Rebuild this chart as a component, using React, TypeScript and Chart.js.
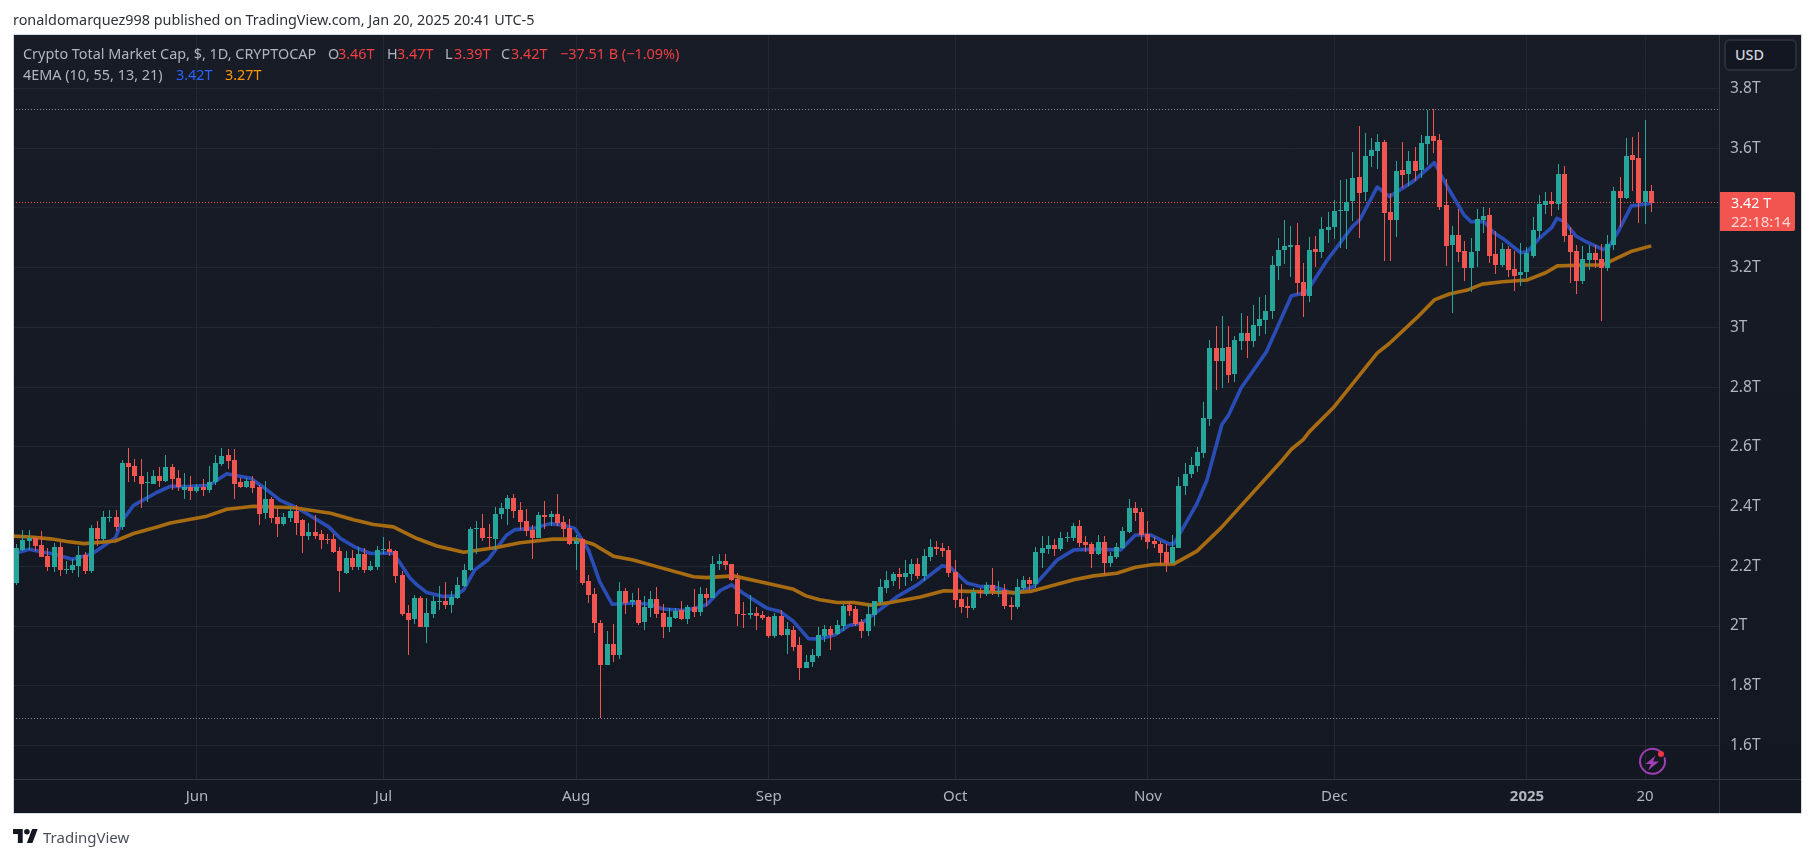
import React, { useEffect, useRef } from "react";
import { Chart, registerables } from "chart.js";

Chart.register(...registerables);

const opens = [
  2.144, 2.256, 2.284, 2.296, 2.271, 2.234, 2.197, 2.264, 2.188, 2.187,
  2.201, 2.237, 2.184, 2.327, 2.291, 2.362, 2.364, 2.331, 2.547, 2.537,
  2.504, 2.478, 2.477, 2.504, 2.487, 2.531, 2.497, 2.457, 2.467, 2.451,
  2.464, 2.454, 2.481, 2.544, 2.574, 2.557, 2.481, 2.467, 2.487, 2.464,
  2.377, 2.427, 2.364, 2.341, 2.361, 2.384, 2.354, 2.301, 2.314, 2.307,
  2.291, 2.291, 2.251, 2.177, 2.227, 2.197, 2.241, 2.187, 2.197, 2.255,
  2.257, 2.251, 2.171, 2.044, 2.024, 2.094, 1.998, 2.041, 2.082, 2.084,
  2.071, 2.094, 2.134, 2.188, 2.324, 2.328, 2.298, 2.291, 2.374, 2.391,
  2.428, 2.388, 2.351, 2.321, 2.294, 2.371, 2.364, 2.374, 2.348, 2.328,
  2.274, 2.291, 2.151, 2.108, 2.011, 1.871, 1.941, 1.904, 2.118, 2.081,
  2.088, 2.014, 2.061, 2.091, 2.044, 1.998, 2.028, 2.054, 2.024, 2.064,
  2.048, 2.108, 2.094, 2.208, 2.218, 2.208, 2.158, 2.041, 2.038, 2.044,
  2.038, 2.031, 1.968, 2.034, 1.971, 1.988, 1.938, 1.861, 1.878, 1.901,
  1.968, 1.991, 1.975, 2.001, 2.071, 2.058, 2.015, 1.985, 2.038, 2.081,
  2.128, 2.151, 2.175, 2.165, 2.175, 2.208, 2.168, 2.231, 2.265, 2.261,
  2.255, 2.181, 2.091, 2.068, 2.061, 2.115, 2.108, 2.138, 2.116, 2.121,
  2.071, 2.065, 2.128, 2.155, 2.141, 2.245, 2.258, 2.271, 2.258, 2.296,
  2.295, 2.335, 2.281, 2.275, 2.241, 2.281, 2.211, 2.231, 2.261, 2.315,
  2.395, 2.381, 2.308, 2.285, 2.275, 2.248, 2.211, 2.261, 2.469, 2.509,
  2.536, 2.58, 2.694, 2.932, 2.888, 2.935, 2.845, 2.955, 2.982, 2.955,
  3.005, 3.025, 3.055, 3.206, 3.26, 3.27, 3.277, 3.153, 3.106, 3.263,
  3.253, 3.327, 3.337, 3.39, 3.39, 3.424, 3.504, 3.454, 3.574, 3.591,
  3.621, 3.387, 3.36, 3.527, 3.514, 3.558, 3.527, 3.614, 3.641, 3.628,
  3.41, 3.276, 3.309, 3.256, 3.199, 3.256, 3.36, 3.376, 3.246, 3.209,
  3.263, 3.196, 3.175, 3.185, 3.239, 3.323, 3.41, 3.423, 3.413, 3.514,
  3.309, 3.256, 3.155, 3.226, 3.249, 3.229, 3.199, 3.276, 3.457, 3.433,
  3.578, 3.568, 3.42, 3.457,
];
const closes = [
  2.261, 2.287, 2.296, 2.267, 2.231, 2.197, 2.264, 2.187, 2.191, 2.204,
  2.237, 2.184, 2.327, 2.291, 2.364, 2.364, 2.331, 2.547, 2.534, 2.501,
  2.474, 2.481, 2.504, 2.487, 2.531, 2.494, 2.464, 2.467, 2.451, 2.464,
  2.454, 2.484, 2.547, 2.571, 2.551, 2.477, 2.467, 2.487, 2.461, 2.374,
  2.427, 2.361, 2.341, 2.364, 2.384, 2.344, 2.301, 2.314, 2.301, 2.287,
  2.288, 2.247, 2.184, 2.227, 2.197, 2.241, 2.187, 2.201, 2.254, 2.257,
  2.247, 2.167, 2.041, 2.021, 2.094, 1.998, 2.044, 2.084, 2.084, 2.071,
  2.098, 2.138, 2.188, 2.324, 2.328, 2.294, 2.294, 2.374, 2.394, 2.428,
  2.384, 2.348, 2.318, 2.294, 2.371, 2.364, 2.374, 2.344, 2.324, 2.274,
  2.284, 2.144, 2.104, 2.011, 1.868, 1.941, 1.904, 2.118, 2.078, 2.088,
  2.011, 2.064, 2.091, 2.041, 1.998, 2.031, 2.051, 2.024, 2.064, 2.048,
  2.108, 2.094, 2.208, 2.218, 2.204, 2.154, 2.041, 2.038, 2.044, 2.034,
  2.028, 1.968, 2.034, 1.971, 1.991, 1.931, 1.861, 1.881, 1.904, 1.971,
  1.991, 1.971, 2.005, 2.068, 2.051, 2.008, 1.985, 2.041, 2.085, 2.131,
  2.155, 2.175, 2.165, 2.178, 2.208, 2.168, 2.235, 2.265, 2.258, 2.251,
  2.178, 2.088, 2.065, 2.061, 2.115, 2.111, 2.138, 2.118, 2.118, 2.068,
  2.065, 2.131, 2.155, 2.141, 2.248, 2.261, 2.271, 2.258, 2.295, 2.298,
  2.335, 2.278, 2.271, 2.241, 2.281, 2.211, 2.235, 2.265, 2.318, 2.395,
  2.378, 2.305, 2.281, 2.275, 2.245, 2.211, 2.265, 2.468, 2.509, 2.54,
  2.583, 2.697, 2.932, 2.888, 2.932, 2.841, 2.958, 2.982, 2.955, 3.009,
  3.029, 3.055, 3.21, 3.26, 3.273, 3.277, 3.149, 3.106, 3.26, 3.253,
  3.33, 3.337, 3.39, 3.394, 3.42, 3.501, 3.451, 3.574, 3.595, 3.621,
  3.384, 3.36, 3.524, 3.511, 3.558, 3.524, 3.618, 3.641, 3.625, 3.403,
  3.273, 3.309, 3.252, 3.199, 3.252, 3.363, 3.373, 3.239, 3.209, 3.263,
  3.192, 3.172, 3.185, 3.249, 3.326, 3.413, 3.423, 3.413, 3.514, 3.306,
  3.252, 3.155, 3.229, 3.249, 3.226, 3.199, 3.279, 3.457, 3.433, 3.574,
  3.561, 3.417, 3.457, 3.417,
];
const highs = [
  2.276, 2.321, 2.321, 2.298, 2.317, 2.261, 2.277, 2.281, 2.217, 2.223,
  2.267, 2.247, 2.337, 2.351, 2.384, 2.387, 2.387, 2.557, 2.597, 2.561,
  2.561, 2.517, 2.521, 2.531, 2.574, 2.544, 2.524, 2.514, 2.504, 2.477,
  2.491, 2.537, 2.574, 2.597, 2.594, 2.594, 2.497, 2.497, 2.504, 2.471,
  2.487, 2.431, 2.394, 2.377, 2.397, 2.404, 2.357, 2.344, 2.371, 2.321,
  2.307, 2.307, 2.264, 2.251, 2.254, 2.264, 2.261, 2.217, 2.267, 2.297,
  2.284, 2.254, 2.184, 2.071, 2.104, 2.101, 2.094, 2.101, 2.134, 2.148,
  2.118, 2.164, 2.208, 2.331, 2.351, 2.374, 2.341, 2.398, 2.411, 2.438,
  2.441, 2.414, 2.391, 2.338, 2.381, 2.418, 2.384, 2.441, 2.368, 2.358,
  2.304, 2.294, 2.171, 2.128, 2.021, 1.984, 2.008, 2.148, 2.128, 2.111,
  2.128, 2.101, 2.118, 2.131, 2.074, 2.061, 2.061, 2.084, 2.071, 2.124,
  2.131, 2.128, 2.234, 2.241, 2.241, 2.208, 2.178, 2.081, 2.104, 2.064,
  2.051, 2.034, 2.044, 2.054, 2.014, 2.001, 1.964, 1.904, 1.924, 1.998,
  2.005, 2.001, 2.021, 2.075, 2.081, 2.068, 2.025, 2.075, 2.085, 2.158,
  2.185, 2.181, 2.195, 2.221, 2.225, 2.228, 2.258, 2.291, 2.285, 2.278,
  2.268, 2.221, 2.141, 2.098, 2.128, 2.128, 2.148, 2.195, 2.151, 2.141,
  2.098, 2.158, 2.168, 2.165, 2.265, 2.301, 2.301, 2.291, 2.315, 2.315,
  2.345, 2.355, 2.301, 2.281, 2.305, 2.301, 2.248, 2.278, 2.331, 2.425,
  2.415, 2.395, 2.351, 2.298, 2.285, 2.275, 2.305, 2.498, 2.545, 2.565,
  2.599, 2.751, 2.958, 3.005, 3.039, 3.005, 2.972, 3.049, 3.039, 3.076,
  3.102, 3.109, 3.24, 3.3, 3.36, 3.34, 3.35, 3.216, 3.303, 3.307,
  3.37, 3.387, 3.427, 3.494, 3.497, 3.588, 3.675, 3.652, 3.635, 3.648,
  3.628, 3.451, 3.558, 3.621, 3.591, 3.604, 3.645, 3.728, 3.731, 3.648,
  3.497, 3.34, 3.397, 3.289, 3.299, 3.397, 3.403, 3.4, 3.323, 3.283,
  3.273, 3.256, 3.283, 3.269, 3.37, 3.444, 3.454, 3.454, 3.547, 3.541,
  3.336, 3.276, 3.273, 3.276, 3.276, 3.279, 3.309, 3.47, 3.504, 3.635,
  3.638, 3.655, 3.695, 3.477,
];
const lows = [
  2.137, 2.252, 2.254, 2.252, 2.231, 2.184, 2.181, 2.167, 2.174, 2.177,
  2.164, 2.174, 2.177, 2.267, 2.284, 2.347, 2.317, 2.321, 2.484, 2.481,
  2.394, 2.414, 2.474, 2.467, 2.481, 2.454, 2.451, 2.427, 2.421, 2.444,
  2.437, 2.447, 2.471, 2.537, 2.527, 2.424, 2.461, 2.461, 2.447, 2.337,
  2.357, 2.344, 2.297, 2.334, 2.347, 2.304, 2.244, 2.287, 2.291, 2.257,
  2.274, 2.244, 2.114, 2.174, 2.187, 2.187, 2.177, 2.184, 2.187, 2.241,
  2.234, 2.144, 2.034, 1.904, 2.008, 1.998, 1.944, 2.028, 2.054, 2.058,
  2.044, 2.091, 2.131, 2.184, 2.241, 2.284, 2.261, 2.254, 2.358, 2.338,
  2.361, 2.321, 2.301, 2.224, 2.294, 2.324, 2.334, 2.334, 2.298, 2.271,
  2.188, 2.138, 2.078, 1.978, 1.693, 1.871, 1.881, 1.891, 2.041, 2.064,
  2.004, 1.988, 2.031, 2.028, 1.961, 1.981, 2.024, 2.021, 2.008, 2.031,
  2.034, 2.068, 2.094, 2.188, 2.188, 2.151, 2.001, 1.994, 2.024, 1.988,
  2.021, 1.961, 1.961, 1.968, 1.908, 1.918, 1.818, 1.858, 1.864, 1.894,
  1.948, 1.921, 1.971, 1.985, 2.035, 2.001, 1.961, 1.968, 2.001, 2.071,
  2.111, 2.135, 2.125, 2.135, 2.151, 2.158, 2.151, 2.218, 2.238, 2.231,
  2.165, 2.061, 2.045, 2.028, 2.055, 2.095, 2.101, 2.105, 2.098, 2.058,
  2.021, 2.058, 2.121, 2.121, 2.128, 2.195, 2.241, 2.235, 2.251, 2.281,
  2.285, 2.265, 2.248, 2.195, 2.238, 2.171, 2.198, 2.225, 2.258, 2.311,
  2.351, 2.288, 2.258, 2.261, 2.205, 2.181, 2.208, 2.261, 2.439, 2.496,
  2.516, 2.563, 2.67, 2.791, 2.798, 2.814, 2.818, 2.925, 2.898, 2.935,
  2.972, 2.979, 3.029, 3.159, 3.213, 3.169, 3.112, 3.035, 3.086, 3.203,
  3.233, 3.283, 3.297, 3.266, 3.263, 3.357, 3.3, 3.424, 3.538, 3.531,
  3.223, 3.223, 3.303, 3.467, 3.474, 3.49, 3.5, 3.544, 3.584, 3.393,
  3.206, 3.048, 3.219, 3.155, 3.118, 3.202, 3.316, 3.216, 3.179, 3.202,
  3.169, 3.122, 3.138, 3.162, 3.232, 3.299, 3.38, 3.373, 3.393, 3.286,
  3.149, 3.112, 3.145, 3.192, 3.199, 3.021, 3.189, 3.259, 3.336, 3.43,
  3.457, 3.35, 3.346, 3.387,
];

const fastEmaDays = [
  -0.6, 2, 4.3, 6, 8.9, 12.1, 15.9, 17, 18.8, 22.6, 24.7, 27.4, 30.9, 33.8, 37.6, 39.7, 42.4, 44.6, 46.7, 50.2,
  52.1, 54.2, 56.9, 60.6, 63.3, 64.4, 66, 68.6, 70.5, 71.9, 73.7, 75.9, 78.8, 80.2, 83.1, 85.8, 88, 89.8, 92, 93.8,
  95.8, 99.2, 101.9, 104, 107.8, 111, 113.2, 115, 116.9, 120.7, 122.8, 125, 127.4, 129.1, 131.7, 133.9, 136, 138.2, 141.7, 144.9,
  148.9, 150.2, 152.9, 155.1, 157.2, 160.4, 163.6, 167.4, 170.1, 173.3, 177.6, 180, 182.4, 185.4, 186.2, 189.9, 191.5, 193.9, 195, 197,
  201.1, 205.1, 207.5, 210.7, 212.3, 215, 216.1, 218.9, 220.9, 224.7, 228.1, 230.2, 232.9, 234, 236.1, 237.7, 239.1, 242, 243.1, 245,
  247, 247.8, 249, 250.9, 252.5, 255.2, 256.2, 257.8, 259.8, 261, 263,
];
const fastEmaValues = [
  2.241, 2.257, 2.247, 2.241, 2.224, 2.241, 2.296, 2.354, 2.404, 2.448, 2.468, 2.467, 2.471, 2.51, 2.495, 2.465, 2.421, 2.401, 2.376, 2.332,
  2.293, 2.267, 2.243, 2.245, 2.16, 2.138, 2.112, 2.099, 2.101, 2.121, 2.188, 2.223, 2.304, 2.323, 2.327, 2.343, 2.338, 2.327, 2.254, 2.149,
  2.073, 2.077, 2.073, 2.057, 2.052, 2.071, 2.119, 2.138, 2.11, 2.06, 2.049, 2.015, 1.958, 1.957, 1.971, 2.002, 2.01, 2.044, 2.099, 2.138,
  2.202, 2.197, 2.144, 2.132, 2.132, 2.11, 2.132, 2.221, 2.255, 2.257, 2.255, 2.305, 2.305, 2.275, 2.275, 2.41, 2.488, 2.674, 2.707, 2.797,
  2.919, 3.106, 3.117, 3.221, 3.265, 3.34, 3.36, 3.47, 3.438, 3.489, 3.552, 3.471, 3.376, 3.354, 3.354, 3.317, 3.298, 3.25, 3.254, 3.298,
  3.335, 3.365, 3.354, 3.306, 3.287, 3.261, 3.27, 3.326, 3.407, 3.41, 3.416,
];
const slowEmaDays = [
  -0.6, 2.2, 5.4, 8.1, 10.8, 15.9, 18.8, 22.6, 24.7, 30.6, 33.8, 38.1, 44.6, 50.5, 54.2, 57.4, 60.6, 64.4, 67.6, 71.9,
  77.2, 81, 86.3, 90.1, 92.8, 96, 99.2, 103, 108.9, 111, 115.3, 120.7, 125, 127, 129.2, 132, 134.7, 137.4, 140.6, 145.4,
  149.2, 152.9, 160.4, 163.1, 170.1, 173.3, 177, 180, 182.9, 186.2, 189.9, 193.7, 203.7, 205.1, 207, 208, 211.8, 216.1, 218.9, 220.9,
  225.2, 228.1, 230.5, 233.4, 235.8, 239.1, 243.1, 246, 247.9, 252.5, 255.2, 259.7, 263,
];
const slowEmaValues = [
  2.301, 2.298, 2.292, 2.283, 2.276, 2.285, 2.31, 2.332, 2.345, 2.368, 2.391, 2.401, 2.396, 2.378, 2.356, 2.34, 2.332, 2.293, 2.268, 2.247,
  2.263, 2.279, 2.291, 2.291, 2.274, 2.234, 2.221, 2.199, 2.165, 2.162, 2.168, 2.143, 2.123, 2.101, 2.088, 2.079, 2.079, 2.07, 2.079, 2.097,
  2.118, 2.116, 2.112, 2.116, 2.155, 2.168, 2.177, 2.197, 2.206, 2.208, 2.251, 2.327, 2.557, 2.592, 2.624, 2.651, 2.73, 2.841, 2.914, 2.947,
  3.031, 3.092, 3.112, 3.125, 3.145, 3.153, 3.159, 3.183, 3.206, 3.209, 3.209, 3.254, 3.273,
];

const priceTicks = [1.6, 1.8, 2, 2.2, 2.4, 2.6, 2.8, 3, 3.2, 3.4, 3.6, 3.8];
const priceTickLabels = ["1.6T", "1.8T", "2T", "2.2T", "2.4T", "2.6T", "2.8T", "3T", "3.2T", "", "3.6T", "3.8T"];
const dayTicks = [29, 59, 90, 121, 151, 182, 212, 243, 262];
const dayTickLabels = ["Jun", "Jul", "Aug", "Sep", "Oct", "Nov", "Dec", "2025", "20"];

const highLevel = 3.72968;
const lowLevel = 1.69041;
const lastPrice = 3.41826;

const FONT = '"Noto Sans", sans-serif';
const UP = "#26a69a";
const DOWN = "#f25450";
const X_MIN = -0.6;
const X_MAX = 273.9;
const Y_MIN = 1.48782;
const Y_MAX = 3.9825;

const candlePixels = {
  id: "candlePixels",
  beforeDatasetsDraw(chart: any) {
    chart.getSortedVisibleDatasetMetas().forEach((meta: any) => {
      if (meta.type !== "bar") return;
      meta.data.forEach((el: any) => {
        el.x = Math.floor(el.x) + 0.5;
        const y = Math.round(el.y);
        let base = Math.round(el.base);
        if (y === base) base = y + 1;
        el.y = y;
        el.base = base;
      });
    });
  },
};

const frame = {
  id: "frame",
  beforeDraw(chart: any) {
    const c = chart.ctx;
    c.save();
    c.fillStyle = "#ffffff";
    c.fillRect(0, 0, 1814, 858);
    const g = c.createLinearGradient(0, 34, 0, 813);
    g.addColorStop(0, "#181c27");
    g.addColorStop(1, "#131722");
    c.fillStyle = g;
    c.fillRect(13, 34, 1789, 780);
    c.restore();
  },
  afterDraw(chart: any) {
    const c = chart.ctx;
    c.save();
    c.strokeStyle = "#343843";
    c.lineWidth = 1;
    c.beginPath();
    c.moveTo(1719.5, 34);
    c.lineTo(1719.5, 813);
    c.moveTo(13, 779.5);
    c.lineTo(1801, 779.5);
    c.stroke();
    c.strokeStyle = "#d6d8df";
    c.strokeRect(13.5, 34.5, 1788, 779);
    c.restore();
  },
};

function Label(props: any) {
  const { x, y, color, size, weight, children } = props;
  return (
    <span
      style={{
        position: "absolute",
        left: x,
        top: y,
        transform: "translateY(-50%)",
        color,
        fontFamily: FONT,
        fontSize: size || 14.4,
        fontWeight: weight || 400,
        whiteSpace: "nowrap",
        lineHeight: 1,
      }}
    >
      {children}
    </span>
  );
}

export default function App() {
  const ref = useRef<HTMLCanvasElement | null>(null);
  useEffect(() => {
    const colors = opens.map((o, i) => (closes[i] >= o ? UP : DOWN));
    const level = (y: number, color: string) => ({
      type: "line",
      data: [
        { x: X_MIN, y },
        { x: X_MAX, y },
      ],
      borderColor: color,
      borderWidth: 1,
      borderDash: [1, 2],
      pointRadius: 0,
      order: 6,
    });
    const chart = new Chart(ref.current as HTMLCanvasElement, {
      type: "bar",
      plugins: [frame, candlePixels],
      data: {
        datasets: [
          {
            type: "bar",
            data: opens.map((o, i) => ({ x: i, y: [o, closes[i]] })),
            backgroundColor: colors,
            maxBarThickness: 5,
            barPercentage: 1,
            categoryPercentage: 1,
            grouped: false,
            inflateAmount: 0,
            order: 0,
          },
          {
            type: "bar",
            data: lows.map((l, i) => ({ x: i, y: [l, highs[i]] })),
            backgroundColor: colors,
            maxBarThickness: 1,
            barPercentage: 1,
            categoryPercentage: 1,
            grouped: false,
            inflateAmount: 0,
            order: 1,
          },
          {
            type: "line",
            data: slowEmaDays.map((x, i) => ({ x, y: slowEmaValues[i] })),
            borderColor: "#a76b12",
            borderWidth: 3.6,
            pointRadius: 0,
            borderJoinStyle: "round",
            order: 2,
          },
          {
            type: "line",
            data: fastEmaDays.map((x, i) => ({ x, y: fastEmaValues[i] })),
            borderColor: "#2a4db5",
            borderWidth: 3.6,
            pointRadius: 0,
            borderJoinStyle: "round",
            order: 3,
          },
          level(highLevel, "#8a8d96"),
          level(lowLevel, "#8a8d96"),
          level(lastPrice, "#f25450"),
        ],
      } as any,
      options: {
        responsive: false,
        animation: false,
        devicePixelRatio: 1,
        layout: { padding: { left: 13, top: 34, right: 13, bottom: 45 } },
        plugins: { legend: { display: false }, tooltip: { enabled: false } },
        events: [],
        scales: {
          x: {
            type: "linear",
            min: X_MIN,
            max: X_MAX,
            offset: false,
            afterBuildTicks: (s: any) => {
              s.ticks = dayTicks.map((value) => ({ value }));
            },
            afterFit: (s: any) => {
              s.height = 34;
            },
            border: { display: false },
            grid: { color: "#232732", drawTicks: false, lineWidth: 1, offset: false },
            ticks: {
              autoSkip: false,
              maxRotation: 0,
              padding: 9,
              color: "#b2b5be",
              callback: (v: any) => dayTickLabels[dayTicks.indexOf(v)],
              font: (ctx: any) => ({
                family: FONT,
                size: 15,
                weight: ctx.tick && ctx.tick.value === 243 ? "bold" : "normal",
              }),
            },
          },
          y: {
            type: "linear",
            position: "right",
            min: Y_MIN,
            max: Y_MAX,
            afterBuildTicks: (s: any) => {
              s.ticks = priceTicks.map((value) => ({ value }));
            },
            afterFit: (s: any) => {
              s.width = 82;
            },
            border: { display: false },
            grid: { color: "#232732", drawTicks: false, lineWidth: 1 },
            ticks: {
              padding: 11,
              color: "#b2b5be",
              callback: (v: any) => priceTickLabels[priceTicks.indexOf(v)],
              font: { family: FONT, size: 15.5 },
            },
          },
        },
      } as any,
    });
    return () => chart.destroy();
  }, []);

  return (
    <div style={{ position: "absolute", left: 0, top: 0, width: 1814, height: 858, overflow: "hidden" }}>
      <canvas ref={ref} width={1814} height={858} style={{ position: "absolute", left: 0, top: 0, width: 1814, height: 858 }} />

      <Label x={13} y={20} color="#2e3138">ronaldomarquez998 published on TradingView.com, Jan 20, 2025 20:41 UTC-5</Label>

      <Label x={23} y={54} color="#b2b5be">Crypto Total Market Cap, $, 1D, CRYPTOCAP</Label>
      <Label x={328} y={54} color="#b2b5be">O</Label>
      <Label x={338} y={54} color="#f23f42">3.46T</Label>
      <Label x={387} y={54} color="#b2b5be">H</Label>
      <Label x={397} y={54} color="#f23f42">3.47T</Label>
      <Label x={445} y={54} color="#b2b5be">L</Label>
      <Label x={454} y={54} color="#f23f42">3.39T</Label>
      <Label x={501} y={54} color="#b2b5be">C</Label>
      <Label x={511} y={54} color="#f23f42">3.42T</Label>
      <Label x={560} y={54} color="#f23f42">−37.51 B (−1.09%)</Label>

      <Label x={23} y={75} color="#b2b5be">4EMA (10, 55, 13, 21)</Label>
      <Label x={176} y={75} color="#2962ff">3.42T</Label>
      <Label x={225} y={75} color="#ff9800">3.27T</Label>

      <div style={{ position: "absolute", left: 1724, top: 39, width: 69, height: 28, border: "2px solid #2a2e39", borderRadius: 6, background: "#131722" }} />
      <Label x={1735} y={55} color="#d1d4dc" weight={500}>USD</Label>

      <div style={{ position: "absolute", left: 1720, top: 192, width: 75, height: 39, background: "#f25450", borderRadius: "0 2px 2px 0" }} />
      <Label x={1731} y={203} color="#ffffff">3.42 T</Label>
      <Label x={1731} y={221} color="#ffd6d4" size={15}>22:18:14</Label>

      <svg style={{ position: "absolute", left: 1636, top: 746 }} width={34} height={34} viewBox="0 0 34 34">
        <path d="M24.5 5.6 A12.5 12.5 0 1 0 28.6 12" fill="none" stroke="#a13fb2" strokeWidth={2} strokeLinecap="round" />
        <path d="M19.5 9.5 L9.5 18 L15 18 L12 24.5 L23 15.5 L17 15.5 Z" fill="#a13fb2" />
        <circle cx={25} cy={8} r={3} fill="#f23645" />
      </svg>

      <svg style={{ position: "absolute", left: 13, top: 829 }} width={25} height={14} viewBox="0 0 36 20">
        <path d="M14 20H7V7H0V0h14v20zM28 20h-8l7.5-20h8L28 20z" fill="#131722" />
        <circle cx={20} cy={4} r={4} fill="#131722" />
      </svg>
      <Label x={43} y={837} color="#4a4e59" size={15}>TradingView</Label>
    </div>
  );
}
